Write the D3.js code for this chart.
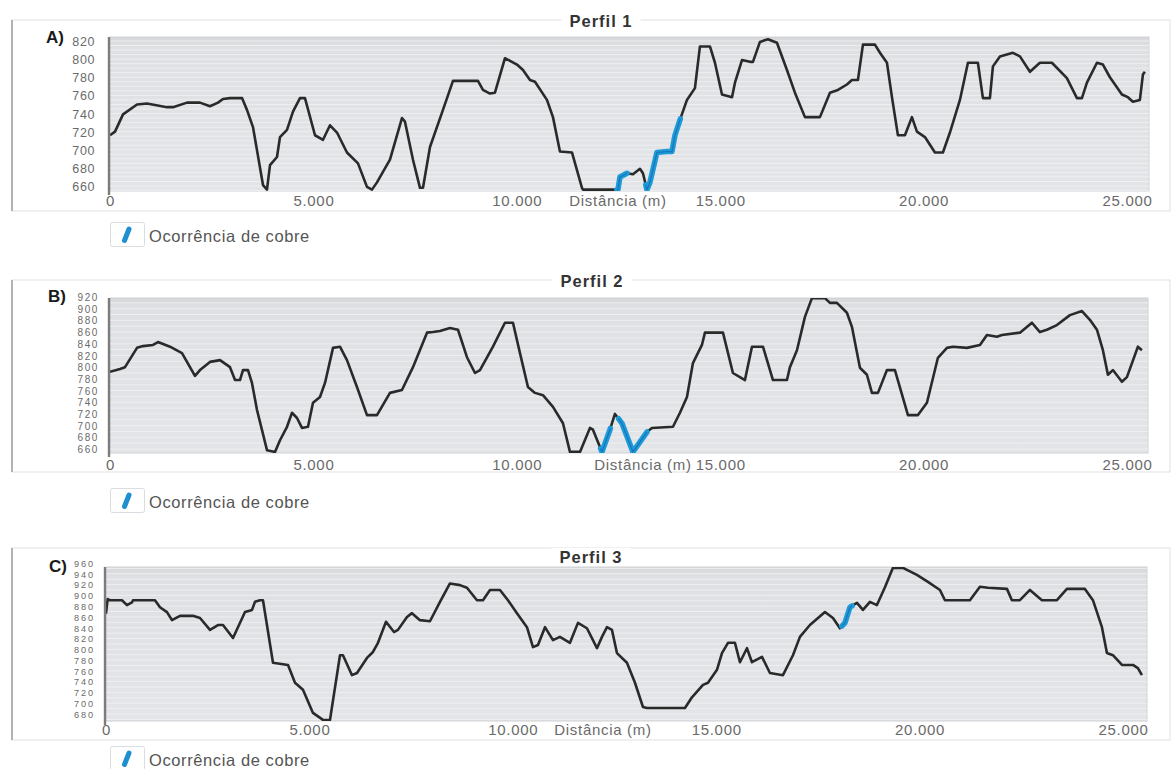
<!DOCTYPE html>
<html><head><meta charset="utf-8">
<script src="https://cdnjs.cloudflare.com/ajax/libs/d3/7.8.5/d3.min.js"></script>
<style>body{margin:0;background:#fff}svg{display:block}text{font-family:"Liberation Sans",Arial,Helvetica,sans-serif}</style>
</head><body><svg id="c" width="1176" height="769"></svg>
<script>
// ---- data ----
const xTicks=[0,5000,10000,15000,20000,25000];
const yTicks1=[660,680,700,720,740,760,780,800,820];
const yTicks2=[660,680,700,720,740,760,780,800,820,840,860,880,900,920];
const yTicks3=[680,700,720,740,760,780,800,820,840,860,880,900,920,940,960];
const titles=["Perfil 1","Perfil 2","Perfil 3"];
const letters=["A)","B)","C)"];
const xAxisTitle="Distância (m)";
const legendLabel="Ocorrência de cobre";

// [distance (m), elevation (m)]
const profile1=[[0,716],[123,720],[320,739],[664,750],[909,751],[1401,747],[1549,747],[1893,752],[2212,752],[2458,748],[2655,752],[2778,756],[2950,757],[3245,757],[3367,744],[3515,725],[3761,661],[3859,656],[3933,683],[4105,692],[4179,714],[4351,722],[4498,742],[4670,757],[4793,757],[5039,716],[5236,711],[5408,727],[5580,719],[5825,697],[6096,685],[6317,659],[6440,656],[6563,664],[6882,689],[7177,735],[7251,731],[7448,689],[7620,658],[7694,658],[7866,703],[8185,744],[8431,776],[9045,776],[9168,766],[9340,762],[9463,763],[9709,801],[10004,794],[10152,788],[10324,777],[10447,775],[10741,755],[10889,736],[11061,698],[11356,697],[11602,658],[11626,656],[12487,656],[12536,670],[12708,674],[12855,673],[13027,679],[13101,674],[13199,656],[13273,664],[13445,697],[13691,698],[13814,698],[13888,716],[14011,733],[14183,755],[14379,768],[14502,814],[14748,814],[14871,796],[15044,761],[15290,758],[15363,774],[15535,799],[15731,797],[15805,797],[15977,819],[16174,822],[16395,818],[16641,788],[16837,763],[17083,736],[17452,736],[17698,763],[17894,766],[18115,772],[18238,777],[18386,777],[18509,816],[18804,816],[18927,807],[19099,796],[19222,758],[19369,716],[19541,716],[19713,736],[19836,720],[20033,714],[20279,697],[20475,697],[20647,719],[20893,755],[21090,796],[21335,796],[21458,757],[21630,757],[21704,792],[21876,803],[22196,807],[22368,803],[22614,786],[22859,796],[23154,796],[23523,779],[23769,757],[23892,757],[24015,774],[24261,796],[24408,794],[24580,780],[24875,761],[25022,758],[25145,753],[25317,755],[25391,783],[25440,786]];
const copper1=[[12460,12710],[13170,14020]];

const profile2=[[0,792],[246,797],[369,800],[664,833],[811,836],[1057,838],[1180,843],[1475,835],[1770,824],[1966,800],[2089,785],[2212,795],[2458,809],[2704,812],[2950,800],[3073,778],[3195,778],[3269,795],[3392,795],[3490,773],[3613,727],[3859,658],[4056,655],[4179,675],[4351,698],[4474,722],[4597,713],[4719,696],[4867,698],[4990,739],[5162,749],[5285,773],[5482,833],[5653,835],[5825,812],[6071,766],[6317,718],[6563,718],[6882,756],[7177,761],[7448,800],[7792,859],[7939,860],[8111,862],[8357,867],[8554,864],[8775,817],[8972,790],[9095,795],[9414,835],[9709,876],[9906,876],[10078,824],[10274,766],[10447,756],[10643,752],[10889,732],[11135,704],[11307,655],[11553,655],[11798,696],[11872,693],[12094,655],[12290,693],[12413,720],[12585,704],[12855,655],[13199,689],[13322,696],[13839,698],[14011,722],[14183,749],[14330,807],[14551,838],[14625,859],[15068,859],[15313,790],[15485,783],[15608,778],[15781,835],[16051,835],[16297,778],[16641,778],[16714,800],[16887,829],[17083,886],[17255,918],[17575,918],[17698,910],[17870,910],[18115,893],[18238,869],[18435,799],[18607,787],[18730,756],[18878,756],[19099,795],[19295,795],[19615,718],[19861,718],[20082,739],[20352,816],[20573,833],[20721,835],[21065,833],[21385,838],[21557,855],[21803,852],[21925,855],[22368,859],[22663,876],[22859,860],[23031,864],[23277,872],[23597,889],[23892,896],[24088,881],[24261,864],[24408,829],[24531,787],[24653,795],[24875,775],[24998,783],[25268,835],[25366,829]];
const copper2=[[12060,12300],[12500,13200]];

const profile3=[[0,866],[40,893],[98,891],[393,891],[516,882],[639,887],[664,891],[1204,891],[1327,878],[1499,869],[1622,854],[1819,862],[2138,862],[2311,858],[2556,836],[2753,845],[2876,845],[3122,821],[3417,869],[3589,873],[3662,888],[3785,891],[3859,891],[4105,775],[4474,771],[4646,738],[4842,725],[5088,682],[5334,669],[5506,669],[5752,789],[5825,789],[6047,752],[6170,756],[6415,784],[6563,795],[6686,812],[6883,851],[7079,832],[7177,836],[7399,860],[7521,867],[7718,854],[7964,852],[8210,888],[8455,922],[8701,919],[8873,914],[9119,891],[9267,891],[9439,910],[9685,910],[9881,891],[10102,867],[10348,841],[10496,804],[10619,808],[10791,841],[10987,817],[11159,823],[11405,812],[11602,849],[11823,839],[12069,802],[12192,823],[12315,841],[12437,836],[12560,793],[12806,775],[13003,738],[13200,693],[13298,691],[14232,691],[14404,711],[14675,734],[14798,738],[15019,762],[15142,793],[15290,812],[15461,812],[15584,776],[15756,802],[15879,776],[16125,786],[16321,756],[16641,752],[16887,789],[17058,823],[17304,845],[17673,869],[17870,858],[18042,839],[18165,849],[18287,878],[18460,886],[18607,873],[18779,888],[18951,882],[19148,915],[19345,951],[19590,951],[19934,938],[20205,925],[20500,910],[20623,891],[21237,891],[21483,916],[21680,914],[22147,912],[22269,891],[22466,891],[22712,910],[23007,891],[23376,891],[23621,912],[24064,912],[24261,891],[24482,841],[24605,793],[24752,789],[24974,771],[25244,771],[25366,765],[25465,752]];
const copper3=[[18090,18340]];

// ---- layout ----
const panels=[
 {data:profile1,copper:copper1,yTicks:yTicks1,yRef:[660,820,186,41],xRange:[110,1127],plot:{l:110,r:1149,t:37,b:191},frame:[20,211],title:{x:601,y:27},letter:{x:46,y:43},xLabelY:206,distX:618,yLabelX:95,yFont:12.5,yLs:0.6,legendY:222,grid:5},
 {data:profile2,copper:copper2,yTicks:yTicks2,yRef:[660,920,449,297],xRange:[110,1127],plot:{l:110,r:1148,t:298,b:453},frame:[280,472],title:{x:592,y:287},letter:{x:48,y:302},xLabelY:470,distX:643,yLabelX:99,yFont:10,yLs:1.6,legendY:488,grid:10},
 {data:profile3,copper:copper3,yTicks:yTicks3,yRef:[680,960,714,563],xRange:[106,1123],plot:{l:106,r:1147,t:567,b:721},frame:[548,740],title:{x:591,y:563},letter:{x:49,y:572},xLabelY:735,distX:603,yLabelX:95,yFont:9.2,yLs:1.9,legendY:746,grid:10}
];

const svg=d3.select("#c");
svg.append("rect").attr("width",1176).attr("height",769).attr("fill","#fff");
const defs=svg.append("defs");
const grad=defs.append("linearGradient").attr("id","bg").attr("x1",0).attr("y1",0).attr("x2",0).attr("y2",1);
grad.append("stop").attr("offset","0%").attr("stop-color","#d6d7d9");
grad.append("stop").attr("offset","6%").attr("stop-color","#dee0e3");
grad.append("stop").attr("offset","100%").attr("stop-color","#e3e5e8");

const loc=d3.formatLocale({decimal:",",thousands:".",grouping:[3],currency:["R$",""]});
const fmt=loc.format(",");

function interp(data,d){
  for(let i=1;i<data.length;i++){
    if(data[i][0]>=d){const a=data[i-1],b=data[i];const t=(d-a[0])/(b[0]-a[0]);return a[1]+t*(b[1]-a[1]);}
  }
  return data[data.length-1][1];
}

panels.forEach((p,i)=>{
  const g=svg.append("g");
  const x=d3.scaleLinear().domain([0,25000]).range(p.xRange);
  const y=d3.scaleLinear().domain([p.yRef[0],p.yRef[1]]).range([p.yRef[2],p.yRef[3]]);
  const P=p.plot;
  // frame
  g.append("rect").attr("x",12).attr("y",p.frame[0]).attr("width",1158).attr("height",p.frame[1]-p.frame[0])
    .attr("fill","none").attr("stroke","#e6e6e6").attr("stroke-width",1.2);
  g.append("line").attr("x1",12).attr("x2",12).attr("y1",p.frame[0]).attr("y2",p.frame[1]).attr("stroke","#b3b3b3").attr("stroke-width",2);
  // plot bg
  g.append("rect").attr("x",P.l).attr("y",P.t).attr("width",P.r-P.l).attr("height",P.b-P.t).attr("fill","url(#bg)").attr("stroke","#cfd1d4").attr("stroke-width",1);
  const yMin=y.invert(P.b), yMax=y.invert(P.t);
  const gridVals=d3.range(Math.ceil(yMin/p.grid)*p.grid, yMax, p.grid);
  g.append("g").selectAll("line").data(gridVals).join("line")
    .attr("x1",P.l).attr("x2",P.r).attr("y1",d=>y(d)).attr("y2",d=>y(d))
    .attr("stroke","#eef0f2").attr("stroke-width",0.9);
  // clip
  const cid="clip"+i;
  defs.append("clipPath").attr("id",cid).append("rect").attr("x",P.l).attr("y",P.t).attr("width",P.r-P.l).attr("height",P.b-P.t);
  const line=d3.line().x(d=>x(d[0])).y(d=>y(d[1]));
  const lg=g.append("g").attr("clip-path","url(#"+cid+")");
  lg.append("path").datum(p.data).attr("d",line).attr("fill","none").attr("stroke","#2a2a2a").attr("stroke-width",2.6).attr("stroke-linejoin","round");
  p.copper.forEach(r=>{
    const seg=[[r[0],interp(p.data,r[0])]].concat(p.data.filter(d=>d[0]>r[0]&&d[0]<r[1])).concat([[r[1],interp(p.data,r[1])]]);
    lg.append("path").datum(seg).attr("d",line).attr("fill","none").attr("stroke","#1f9ad9").attr("stroke-width",5.5).attr("stroke-linejoin","round").attr("stroke-linecap","round");
    lg.append("path").datum(seg).attr("d",line).attr("fill","none").attr("stroke","#1576b8").attr("stroke-width",1.2).attr("stroke-linejoin","round");
  });
  // y axis
  const ya=d3.axisLeft(y).tickValues(p.yTicks).tickSize(0).tickPadding(0).tickFormat(d3.format("d"));
  const yg=g.append("g").attr("transform","translate("+p.yLabelX+",0)").call(ya);
  yg.select(".domain").remove();
  yg.selectAll("text").attr("fill","#6a6a6a").style("font-size",p.yFont+"px").style("letter-spacing",p.yLs+"px").attr("dy","0.36em");
  g.append("line").attr("x1",P.l-1).attr("x2",P.l-1).attr("y1",P.t).attr("y2",P.b+4).attr("stroke","#7c7c7c").attr("stroke-width",2.4);
  // x axis labels
  const xa=d3.axisBottom(x).tickValues(xTicks).tickSize(0).tickPadding(0).tickFormat(fmt);
  const xg=g.append("g").attr("transform","translate(0,"+(p.xLabelY)+")").call(xa);
  xg.select(".domain").remove();
  xg.selectAll("text").attr("fill","#6a6a6a").attr("dy",0).attr("y",0).style("font-size","15px").style("letter-spacing","0.7px");
  g.append("text").attr("x",p.distX).attr("y",p.xLabelY).attr("text-anchor","middle").attr("fill","#6a6a6a")
    .style("font-size","15px").style("letter-spacing","0.7px").text(xAxisTitle);
  // title
  const tt=g.append("text").attr("x",p.title.x).attr("y",p.title.y).attr("text-anchor","middle").attr("fill","#333")
    .style("font-size","16.5px").style("font-weight","bold").style("letter-spacing","1px").text(titles[i]);
  const bb=tt.node().getBBox();
  g.insert("rect",()=>tt.node()).attr("x",bb.x-8).attr("y",bb.y).attr("width",bb.width+16).attr("height",bb.height).attr("fill","#fff");
  // letter
  g.append("text").attr("x",p.letter.x).attr("y",p.letter.y).attr("fill","#1a1a1a").style("font-size","17px").style("font-weight","bold").text(letters[i]);
  // legend
  const L=p.legendY;
  g.append("rect").attr("x",110.5).attr("y",L+0.5).attr("width",34).attr("height",24).attr("rx",2).attr("fill","#fff").attr("stroke","#d9dde2");
  g.append("line").attr("x1",124.5).attr("y1",L+18.5).attr("x2",129).attr("y2",L+7).attr("stroke","#1f8fd0").attr("stroke-width",5).attr("stroke-linecap","round");
  g.append("text").attr("x",149).attr("y",L+20).attr("fill","#555").style("font-size","16.5px").style("letter-spacing","0.6px").text(legendLabel);
});
</script></body></html>
